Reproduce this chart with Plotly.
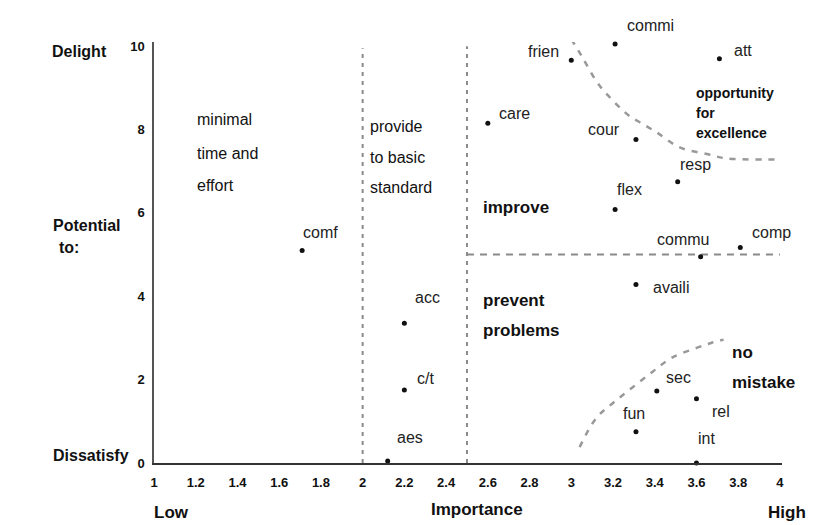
import plotly.graph_objects as go

# ---------------- data ----------------
names = ["comf", "acc", "c/t", "aes", "care", "frien", "commi", "att", "cour",
         "resp", "flex", "commu", "comp", "availi", "sec", "rel", "fun", "int"]
importance = [1.71, 2.2, 2.2, 2.12, 2.6, 3.0, 3.21, 3.71, 3.31,
              3.51, 3.21, 3.62, 3.81, 3.31, 3.41, 3.6, 3.31, 3.6]
potential = [5.1, 3.35, 1.75, 0.05, 8.15, 9.66, 10.05, 9.7, 7.76,
             6.75, 6.08, 4.95, 5.17, 4.28, 1.73, 1.54, 0.75, 0.0]

# label offsets in pixels (dx right, dy up)
label_dx = [18, 23, 21, 22, 27, -28, 35, 24, -32, 18, 14, -18, 31, 35, 22, 25, -2, 10]
label_dy = [18, 26, 12, 23, 10, 9, 19, 8, 10, 17, 20, 17, 15, -3, 13, -13, 18, 25]

# boundary curves
upper_x = [3.0, 3.05, 3.12, 3.17, 3.28, 3.33, 3.41, 3.52, 3.66, 3.74, 4.0]
upper_y = [10.17, 9.76, 9.16, 8.85, 8.32, 8.17, 7.93, 7.57, 7.4, 7.31, 7.28]
lower_x = [3.04, 3.12, 3.2, 3.29, 3.39, 3.48, 3.6, 3.67, 3.73]
lower_y = [0.38, 1.08, 1.44, 1.8, 2.19, 2.52, 2.76, 2.88, 2.96]

x_ticks = [1, 1.2, 1.4, 1.6, 1.8, 2, 2.2, 2.4, 2.6, 2.8, 3, 3.2, 3.4, 3.6, 3.8, 4]
y_ticks = [0, 2, 4, 6, 8, 10]

FONT = "Liberation Sans, Arial, sans-serif"
W, H = 822, 525
ML, MR, MT, MB = 154, 40, 42, 62

fig = go.Figure()

dash_col = "#8a8a8a"
# vertical dividers
fig.add_trace(go.Scatter(x=[2, 2], y=[0, 9.95], mode="lines",
                         line=dict(color=dash_col, width=2, dash="4px,5px"),
                         hoverinfo="skip", showlegend=False))
fig.add_trace(go.Scatter(x=[2.5, 2.5], y=[0, 10.0], mode="lines",
                         line=dict(color=dash_col, width=2, dash="4px,5px"),
                         hoverinfo="skip", showlegend=False))
# horizontal divider
fig.add_trace(go.Scatter(x=[2.5, 4.0], y=[5.0, 5.0], mode="lines",
                         line=dict(color=dash_col, width=2, dash="7px,6px"),
                         hoverinfo="skip", showlegend=False))
# curves
fig.add_trace(go.Scatter(x=upper_x, y=upper_y, mode="lines", line_shape="spline",
                         line=dict(color="#999999", width=2.5, dash="6px,7px"),
                         hoverinfo="skip", showlegend=False))
fig.add_trace(go.Scatter(x=lower_x, y=lower_y, mode="lines", line_shape="spline",
                         line=dict(color="#999999", width=2.5, dash="6px,7px"),
                         hoverinfo="skip", showlegend=False))

# points
fig.add_trace(go.Scatter(x=importance, y=potential, mode="markers",
                         marker=dict(color="#111111", size=5),
                         text=names, hoverinfo="text", showlegend=False,
                         cliponaxis=False))

for n, xv, yv, dx, dy in zip(names, importance, potential, label_dx, label_dy):
    fig.add_annotation(x=xv, y=yv, text=n, showarrow=False, xshift=dx, yshift=dy,
                       font=dict(family=FONT, size=16, color="#222222"))

pw = W - ML - MR
ph = H - MT - MB


def px(xp, yp):
    return (xp - ML) / pw, (H - MB - yp) / ph


def add_text(text, xp, yp, size=16, bold=False, anchor="left"):
    xx, yy = px(xp, yp)
    fig.add_annotation(x=xx, y=yy, xref="paper", yref="paper", text=text,
                       showarrow=False, xanchor=anchor, yanchor="middle",
                       font=dict(family=FONT, size=size, color="#111111",
                                 weight="bold" if bold else "normal"))


# region notes
for t, yp in [("minimal", 120), ("time and", 153), ("effort", 185)]:
    add_text(t, 195, yp, 16)
for t, yp in [("provide", 126), ("to basic", 157), ("standard", 187)]:
    add_text(t, 368, yp, 16)
add_text("improve", 481, 207, 17, True)
add_text("prevent", 481, 300, 17, True)
add_text("problems", 481, 330, 17, True)
for t, yp in [("opportunity", 93), ("for", 113), ("excellence", 133)]:
    add_text(t, 694, yp, 14, True)
add_text("no", 730, 352, 17, True)
add_text("mistake", 730, 382, 17, True)

# side / axis labels
add_text("Delight", 109, 52, 16, True, "right")
add_text("Potential", 123, 225, 16, True, "right")
add_text("to:", 69, 248, 16, True, "center")
add_text("Dissatisfy", 131, 455, 16, True, "right")
add_text("Low", 152, 512, 17, True)
add_text("Importance", 477, 510, 17, True, "center")
add_text("High", 808, 512, 17, True, "right")

fig.update_layout(
    width=W, height=H,
    margin=dict(l=ML, r=MR, t=MT, b=MB),
    plot_bgcolor="white", paper_bgcolor="white",
    showlegend=False,
    xaxis=dict(range=[1, 4.01], tickvals=x_ticks,
               ticktext=[f"{v:g}" for v in x_ticks],
               showgrid=False, zeroline=False, showline=True,
               linecolor="#333333", linewidth=2,
               ticks="", ticklabelstandoff=6,
               tickfont=dict(family=FONT, size=13, color="#111111", weight="bold")),
    yaxis=dict(range=[0, 10.1], tickvals=y_ticks,
               showgrid=False, zeroline=False, showline=True,
               linecolor="#555555", linewidth=1.5,
               ticks="", ticklabelstandoff=5,
               tickfont=dict(family=FONT, size=13, color="#111111", weight="bold")),
)

fig.write_html("out.html", config={"displayModeBar": False},
               post_script="document.body.style.margin='0';document.body.style.overflow='hidden';")
